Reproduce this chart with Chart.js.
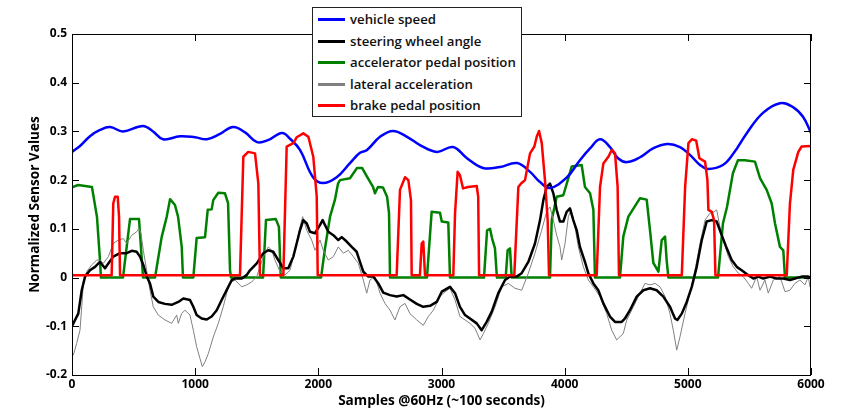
<!DOCTYPE html>
<html>
<head>
<meta charset="utf-8">
<script src="https://cdn.jsdelivr.net/npm/chart.js@4.4.0/dist/chart.umd.min.js"></script>
<style>
  body { margin: 0; background: #fff; }
  #wrap { position: relative; width: 841px; height: 411px; }
  #legend {
    position: absolute; left: 312px; top: 7px; width: 208px; height: 108px;
    border: 1px solid #222; background: #fff;
    font-family: 'Open Sans', sans-serif; font-weight: 600; font-size: 13.2px; color: #111;
  }
  .row { position: absolute; left: 0; width: 100%; height: 20px; }
  .row i { position: absolute; left: 5px; top: 9px; width: 27px; height: 3px; }
  .row span { position: absolute; left: 37px; top: 0; line-height: 20px; white-space: nowrap; }
</style>
</head>
<body>
<div id="wrap">
  <canvas id="chart" width="841" height="411"></canvas>
  <div id="legend"></div>
</div>
<script>
// samples / normalized values
const speedPts = [[0,0.258],[65,0.27],[146,0.29],[227,0.303],[309,0.309],[414,0.30],[576,0.311],[658,0.30],[739,0.284],[877,0.29],[999,0.288],[1096,0.284],[1202,0.295],[1307,0.309],[1405,0.298],[1502,0.278],[1591,0.282],[1705,0.297],[1770,0.285],[1851,0.262],[1957,0.206],[2038,0.194],[2149,0.206],[2257,0.235],[2338,0.256],[2395,0.262],[2501,0.289],[2606,0.301],[2720,0.289],[2825,0.272],[2963,0.258],[3093,0.268],[3207,0.245],[3337,0.225],[3475,0.227],[3613,0.235],[3719,0.217],[3800,0.196],[3881,0.184],[4019,0.206],[4124,0.241],[4206,0.265],[4287,0.284],[4368,0.268],[4433,0.245],[4506,0.237],[4612,0.247],[4717,0.265],[4831,0.274],[4936,0.268],[5017,0.252],[5099,0.231],[5164,0.223],[5285,0.231],[5374,0.256],[5480,0.297],[5610,0.338],[5748,0.358],[5854,0.35],[5935,0.33],[6000,0.297]];

const steeringPts = [[0,-0.1],[11,-0.094],[51,-0.074],[79,-0.026],[106,0.002],[146,0.015],[187,0.022],[227,0.032],[268,0.019],[295,0.029],[335,0.043],[390,0.05],[444,0.05],[485,0.055],[525,0.053],[552,0.043],[579,0.026],[606,0.003],[633,-0.012],[660,-0.039],[701,-0.05],[755,-0.054],[809,-0.056],[863,-0.05],[904,-0.043],[958,-0.046],[985,-0.06],[1012,-0.077],[1053,-0.084],[1094,-0.086],[1134,-0.08],[1175,-0.067],[1215,-0.046],[1269,-0.019],[1297,-0.005],[1323,-0.002],[1378,-0.002],[1418,0.005],[1445,0.015],[1500,0.029],[1553,0.05],[1594,0.056],[1634,0.053],[1675,0.036],[1716,0.019],[1756,0.019],[1797,0.043],[1824,0.07],[1851,0.097],[1878,0.118],[1906,0.111],[1932,0.094],[1973,0.091],[2014,0.108],[2035,0.118],[2054,0.108],[2081,0.094],[2122,0.087],[2162,0.077],[2190,0.083],[2230,0.074],[2271,0.063],[2311,0.053],[2338,0.032],[2365,0.012],[2406,0.002],[2446,0.002],[2487,-0.012],[2527,-0.031],[2582,-0.036],[2636,-0.039],[2690,-0.036],[2744,-0.045],[2799,-0.054],[2852,-0.06],[2907,-0.058],[2961,-0.05],[3002,-0.029],[3069,-0.019],[3110,-0.032],[3150,-0.06],[3191,-0.077],[3231,-0.084],[3286,-0.094],[3326,-0.108],[3367,-0.091],[3408,-0.07],[3461,-0.032],[3516,-0.005],[3556,0.002],[3610,0.002],[3651,0.009],[3705,0.032],[3759,0.07],[3800,0.118],[3827,0.159],[3854,0.186],[3881,0.193],[3908,0.173],[3935,0.139],[3962,0.115],[3989,0.115],[4016,0.135],[4043,0.142],[4070,0.118],[4098,0.097],[4124,0.063],[4165,0.032],[4192,0.009],[4233,-0.012],[4273,-0.026],[4314,-0.053],[4368,-0.08],[4409,-0.091],[4463,-0.091],[4490,-0.084],[4530,-0.067],[4585,-0.039],[4639,-0.026],[4693,-0.022],[4747,-0.026],[4801,-0.039],[4855,-0.06],[4896,-0.084],[4915,-0.087],[4951,-0.074],[4991,-0.05],[5032,-0.019],[5072,0.022],[5113,0.077],[5153,0.115],[5194,0.118],[5234,0.115],[5275,0.087],[5316,0.06],[5356,0.036],[5397,0.022],[5437,0.015],[5491,0.005],[5532,-0.002],[5572,0.002],[5613,-0.002],[5667,0.002],[5721,-0.002],[5775,-0.002],[5829,-0.005],[5870,-0.002],[5924,0.002],[5978,0.002],[6000,0.0]];

const acceleratorPts = [[0,0.185],[50,0.19],[162,0.186],[203,0.124],[227,0.036],[235,0],[414,0],[471,0.12],[544,0.12],[577,0],[674,0],[728,0.083],[769,0.125],[796,0.161],[836,0.149],[861,0.125],[891,0.063],[901,0],[985,0],[1012,0.081],[1080,0.083],[1102,0.139],[1134,0.14],[1147,0.159],[1188,0.174],[1242,0.173],[1267,0.153],[1283,0.015],[1291,0],[1551,0],[1575,0.118],[1655,0.12],[1680,0.104],[1695,0],[2022,0],[2054,0.06],[2095,0.125],[2135,0.16],[2160,0.193],[2176,0.2],[2257,0.204],[2314,0.225],[2355,0.225],[2395,0.207],[2444,0.186],[2460,0.173],[2484,0.186],[2525,0.185],[2558,0.166],[2574,0.132],[2582,0],[2882,0],[2920,0.135],[2988,0.133],[3002,0.115],[3055,0.113],[3069,0],[3345,0],[3370,0.097],[3394,0.1],[3410,0.081],[3434,0.06],[3450,0],[3521,0],[3537,0.056],[3556,0.06],[3570,0],[3881,0],[3895,0.118],[3935,0.166],[3989,0.169],[4030,0.204],[4057,0.228],[4138,0.231],[4165,0.186],[4206,0.173],[4233,0.139],[4246,0],[4449,0],[4476,0.084],[4517,0.125],[4612,0.163],[4666,0.16],[4693,0.097],[4720,0.03],[4761,0.012],[4788,0.077],[4815,0.084],[4828,0.036],[4842,0],[5245,0],[5285,0.111],[5318,0.145],[5366,0.214],[5407,0.241],[5464,0.241],[5545,0.238],[5586,0.204],[5640,0.18],[5681,0.152],[5708,0.111],[5748,0.063],[5775,0.056],[5789,0],[6000,0]];

const lateralPts = [[0,-0.16],[11,-0.159],[38,-0.135],[65,-0.108],[79,-0.06],[92,-0.012],[119,0.012],[160,0.026],[201,0.036],[227,0.036],[254,0.029],[295,0.043],[335,0.07],[376,0.077],[417,0.08],[444,0.07],[485,0.087],[525,0.094],[544,0.101],[560,0.091],[579,0.056],[606,0.015],[633,-0.026],[660,-0.06],[701,-0.077],[755,-0.087],[809,-0.094],[850,-0.077],[863,-0.094],[890,-0.074],[917,-0.067],[958,-0.077],[985,-0.108],[1012,-0.142],[1039,-0.166],[1058,-0.183],[1080,-0.173],[1107,-0.156],[1147,-0.122],[1188,-0.094],[1228,-0.06],[1269,-0.019],[1297,-0.009],[1323,-0.005],[1350,-0.012],[1378,-0.019],[1418,-0.015],[1459,-0.009],[1500,0.002],[1553,0.043],[1594,0.063],[1621,0.056],[1648,0.036],[1689,0.012],[1729,0.005],[1770,0.015],[1811,0.056],[1851,0.104],[1873,0.125],[1906,0.097],[1946,0.077],[1973,0.056],[2014,0.077],[2040,0.056],[2081,0.036],[2122,0.043],[2162,0.063],[2203,0.05],[2243,0.056],[2284,0.043],[2325,0.029],[2365,-0.005],[2393,-0.032],[2419,-0.005],[2460,0.002],[2501,-0.032],[2541,-0.053],[2582,-0.067],[2622,-0.087],[2663,-0.06],[2704,-0.053],[2744,-0.074],[2799,-0.087],[2852,-0.098],[2893,-0.08],[2934,-0.067],[2988,-0.039],[3015,-0.032],[3069,-0.022],[3110,-0.046],[3150,-0.08],[3191,-0.087],[3231,-0.094],[3272,-0.104],[3313,-0.128],[3340,-0.115],[3380,-0.094],[3435,-0.06],[3489,-0.019],[3543,-0.012],[3597,-0.022],[3651,-0.026],[3705,0.009],[3759,0.05],[3813,0.097],[3854,0.135],[3881,0.145],[3908,0.118],[3935,0.087],[3962,0.063],[3976,0.036],[4003,0.07],[4030,0.125],[4051,0.139],[4079,0.111],[4111,0.063],[4152,0.022],[4192,-0.005],[4233,-0.019],[4287,-0.039],[4341,-0.074],[4382,-0.108],[4422,-0.128],[4476,-0.115],[4504,-0.087],[4558,-0.06],[4612,-0.032],[4652,-0.012],[4693,-0.015],[4734,-0.012],[4774,-0.019],[4815,-0.039],[4855,-0.074],[4882,-0.108],[4910,-0.149],[4936,-0.122],[4977,-0.074],[5017,-0.032],[5058,0.015],[5099,0.07],[5140,0.118],[5180,0.132],[5213,0.135],[5234,0.139],[5261,0.104],[5288,0.077],[5329,0.043],[5369,0.022],[5410,0.009],[5450,0.002],[5491,-0.012],[5518,-0.022],[5559,0.002],[5586,-0.026],[5626,-0.005],[5653,-0.032],[5694,-0.005],[5748,0.002],[5789,-0.029],[5829,-0.026],[5870,-0.012],[5910,-0.005],[5951,-0.015],[5978,0.002],[5992,-0.019],[6000,-0.01]];

const brakePts = [[0,0.005],[322,0.005],[335,0.152],[349,0.166],[371,0.166],[382,0.125],[390,0.005],[1364,0.005],[1391,0.248],[1431,0.258],[1486,0.255],[1513,0.193],[1526,0.005],[1716,0.005],[1743,0.269],[1797,0.276],[1824,0.288],[1878,0.296],[1919,0.289],[1959,0.248],[1987,0.166],[1995,0.005],[2636,0.005],[2663,0.18],[2704,0.206],[2731,0.2],[2752,0.159],[2758,0.005],[2825,0.005],[2839,0.07],[2852,0.074],[2866,0.005],[3096,0.005],[3110,0.132],[3131,0.217],[3150,0.21],[3175,0.183],[3215,0.186],[3286,0.188],[3298,0.166],[3305,0.005],[3591,0.005],[3624,0.186],[3646,0.193],[3678,0.2],[3719,0.255],[3754,0.269],[3773,0.289],[3792,0.301],[3814,0.276],[3840,0.2],[3862,0.118],[3873,0.005],[4260,0.005],[4287,0.186],[4314,0.234],[4355,0.248],[4382,0.262],[4409,0.255],[4430,0.186],[4441,0.005],[4951,0.005],[4978,0.186],[5005,0.276],[5033,0.284],[5068,0.281],[5094,0.245],[5140,0.238],[5159,0.2],[5167,0.139],[5194,0.135],[5213,0.118],[5224,0.005],[5803,0.005],[5829,0.152],[5856,0.221],[5897,0.258],[5924,0.269],[6000,0.27]];

const seriesNames = ['vehicle speed', 'steering wheel angle', 'accelerator pedal position', 'lateral acceleration', 'brake pedal position'];
const seriesColors = ['#0000ff', '#000000', '#008000', '#808080', '#ff0000'];
const xTicks = [0, 1000, 2000, 3000, 4000, 5000, 6000];
const yTicks = [-0.2, -0.1, 0, 0.1, 0.2, 0.3, 0.4, 0.5];

const toXY = pts => pts.map(p => ({ x: p[0], y: p[1] }));
const tickFont = { family: "'Open Sans', sans-serif", size: 12, weight: 'bold' };
const titleFont = { family: "'Open Sans', sans-serif", size: 13.6, weight: 'bold' };

// matlab style box with ticks pointing inward
const boxPlugin = {
  id: 'box',
  afterDatasetsDraw(chart) {
    const { ctx, chartArea: a, scales } = chart;
    ctx.save();
    ctx.strokeStyle = '#000';
    ctx.lineWidth = 1;
    ctx.strokeRect(a.left + 0.5, a.top + 0.5, a.right - a.left - 1, a.bottom - a.top);
    ctx.beginPath();
    xTicks.forEach(v => {
      const px = Math.round(scales.x.getPixelForValue(v)) + 0.5;
      ctx.moveTo(px, a.bottom); ctx.lineTo(px, a.bottom - 7);
      ctx.moveTo(px, a.top); ctx.lineTo(px, a.top + 7);
    });
    yTicks.forEach(v => {
      const py = Math.round(scales.y.getPixelForValue(v)) + 0.5;
      ctx.moveTo(a.left, py); ctx.lineTo(a.left + 7, py);
      ctx.moveTo(a.right, py); ctx.lineTo(a.right - 7, py);
    });
    ctx.stroke();
    ctx.restore();
  }
};

const allPts = [speedPts, steeringPts, acceleratorPts, lateralPts, brakePts];
const widths = [2.5, 2.5, 2.5, 1, 2.5];
const drawOrder = [1, 2, 4, 3, 0];

const datasets = allPts.map((pts, i) => ({
  label: seriesNames[i],
  data: toXY(pts),
  borderColor: seriesColors[i],
  borderWidth: widths[i],
  borderJoinStyle: 'round',
  borderCapStyle: 'round',
  pointRadius: 0,
  tension: i === 0 ? 0.4 : 0,
  fill: false,
  order: drawOrder[i]
}));

new Chart(document.getElementById('chart'), {
  type: 'line',
  data: { datasets: datasets },
  options: {
    responsive: false,
    animation: false,
    layout: { padding: { top: 34, right: 30, left: 0, bottom: 0 } },
    plugins: { legend: { display: false }, tooltip: { enabled: false } },
    scales: {
      x: {
        type: 'linear', min: 0, max: 6000,
        afterBuildTicks: s => { s.ticks = xTicks.map(v => ({ value: v })) },
        afterFit: s => { s.height = 36 },
        ticks: { font: tickFont, color: '#000', padding: 2, maxRotation: 0, callback: v => String(v) },
        grid: { display: false, drawTicks: false },
        border: { display: false },
        title: { display: true, text: 'Samples @60Hz (~100 seconds)', font: titleFont, color: '#000', padding: { top: 0, bottom: 2 } }
      },
      y: {
        min: -0.2, max: 0.5,
        afterBuildTicks: s => { s.ticks = yTicks.map(v => ({ value: v })) },
        afterFit: s => { s.width = 72 },
        ticks: { font: tickFont, color: '#000', padding: 5, callback: v => v === 0 ? '0' : v.toFixed(1) },
        grid: { display: false, drawTicks: false },
        border: { display: false },
        title: { display: true, text: 'Normalized Sensor Values', font: titleFont, color: '#000', padding: { top: 27, bottom: 0 } }
      }
    }
  },
  plugins: [boxPlugin]
});

// legend box (sits over the top edge like the original)
const legend = document.getElementById('legend');
const rowTops = [1, 23, 44, 66, 87];
seriesNames.forEach((name, i) => {
  const row = document.createElement('div');
  row.className = 'row';
  row.style.top = rowTops[i] + 'px';
  const sw = document.createElement('i');
  sw.style.background = seriesColors[i];
  const txt = document.createElement('span');
  txt.textContent = name;
  row.appendChild(sw);
  row.appendChild(txt);
  legend.appendChild(row);
});
</script>
</body>
</html>
